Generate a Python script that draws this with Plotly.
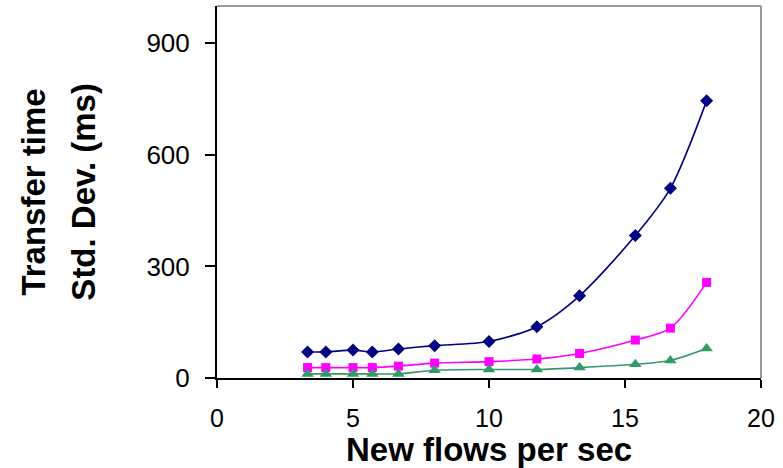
import plotly.graph_objects as go

# New flow arrival rate (flows per second)
flows_per_sec = [3.33, 4, 5, 5.71, 6.67, 8, 10, 11.76, 13.33, 15.38, 16.67, 18]

# Transfer time standard deviation (ms) for the three configurations
std_dev_high = [70, 70, 75, 70, 78, 87, 98, 138, 221, 383, 510, 745]
std_dev_mid = [28, 28, 28, 28, 32, 40, 44, 51, 66, 102, 134, 257]
std_dev_low = [11, 11, 11, 11, 11, 21, 23, 23, 28, 37, 47, 79]

x_ticks = [0, 5, 10, 15, 20]
y_ticks = [0, 300, 600, 900]

FONT = "Liberation Sans, Arial, sans-serif"

series = [
    (std_dev_high, "#000080", "diamond", 10),
    (std_dev_mid, "#FF00FF", "square", 9),
    (std_dev_low, "#339966", "triangle-up", 11),
]

fig = go.Figure()
for values, color, symbol, size in series:
    fig.add_trace(go.Scatter(
        x=flows_per_sec,
        y=values,
        mode="lines+markers",
        line=dict(color=color, width=1.6, shape="spline", smoothing=0.8),
        marker=dict(color=color, symbol=symbol, size=size, line=dict(width=0)),
        showlegend=False,
        cliponaxis=False,
    ))

# Thin grey frame on the top and right of the plotting area
fig.add_shape(type="line", xref="paper", yref="paper", x0=0, x1=1, y0=1, y1=1,
              line=dict(color="#999999", width=2), layer="below")
fig.add_shape(type="line", xref="paper", yref="paper", x0=1, x1=1, y0=0, y1=1,
              line=dict(color="#999999", width=2), layer="below")

fig.update_xaxes(
    range=[0, 20],
    tickvals=x_ticks,
    ticktext=[str(v) for v in x_ticks],
    ticks="outside", ticklen=8, tickwidth=1.5, tickcolor="black",
    ticklabelstandoff=9,
    showline=True, linecolor="black", linewidth=2,
    showgrid=False, zeroline=False,
    tickfont=dict(family=FONT, size=25, color="black"),
)
fig.update_yaxes(
    range=[0, 1000],
    tickvals=y_ticks,
    ticktext=[str(v) for v in y_ticks],
    ticks="outside", ticklen=10, tickwidth=1.5, tickcolor="black",
    ticklabelstandoff=10,
    showline=True, linecolor="black", linewidth=2,
    showgrid=False, zeroline=False,
    tickfont=dict(family=FONT, size=26, color="black"),
)

title_font = dict(family=FONT, size=33, color="black", weight="bold")
fig.add_annotation(text="New flows per sec", xref="paper", yref="paper",
                   x=0.5, y=-0.193, xanchor="center", yanchor="middle",
                   showarrow=False, font=dict(family=FONT, size=33, color="black", weight="bold"))
fig.add_annotation(text="Transfer time", xref="paper", yref="paper",
                   x=-0.339, y=0.5, xanchor="center", yanchor="middle", textangle=-90,
                   showarrow=False, font=title_font)
fig.add_annotation(text="Std. Dev. (ms)", xref="paper", yref="paper",
                   x=-0.247, y=0.5, xanchor="center", yanchor="middle", textangle=-90,
                   showarrow=False, font=title_font)

fig.update_layout(
    width=783, height=468,
    margin=dict(l=217, r=22, t=6, b=90),
    paper_bgcolor="white", plot_bgcolor="white",
)

fig.write_html("out.html")
